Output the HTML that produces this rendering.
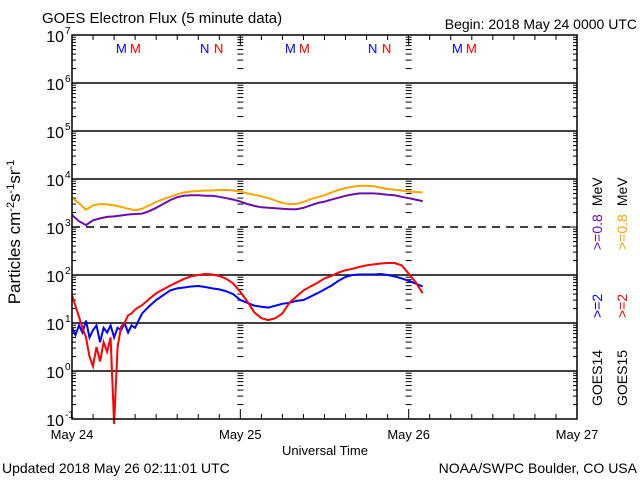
<!DOCTYPE html>
<html><head><meta charset="utf-8"><style>
html,body{margin:0;padding:0;background:#fff;}
svg{display:block;font-family:"Liberation Sans",sans-serif;}
</style></head><body>
<svg id="chart" width="640" height="480" viewBox="0 0 640 480" xmlns="http://www.w3.org/2000/svg">
<rect width="640" height="480" fill="#fff"/>
<text x="42" y="23" font-size="15">GOES Electron Flux (5 minute data)</text>
<text x="637" y="29" font-size="14" text-anchor="end">Begin: 2018 May 24 0000 UTC</text>
<text x="2" y="473" font-size="14">Updated 2018 May 26 02:11:01 UTC</text>
<text x="637" y="473" font-size="14" text-anchor="end">NOAA/SWPC Boulder, CO USA</text>
<text x="325" y="455" font-size="13" text-anchor="middle">Universal Time</text>
<text transform="translate(20,232) rotate(-90)" font-size="17" text-anchor="middle">Particles cm<tspan font-size="11" dy="-6">-2</tspan><tspan dy="6">s</tspan><tspan font-size="11" dy="-6">-1</tspan><tspan dy="6">sr</tspan><tspan font-size="11" dy="-6">-1</tspan></text>
<g id="gridG"></g>
<g id="ticksG"></g>
<g id="seriesG"></g>
<g id="labelsG"></g>
<rect x="72" y="35" width="505" height="384" fill="none" stroke="#000" stroke-width="1.5"/>
<g font-size="14">
<text transform="translate(602,406) rotate(-90)">GOES14</text>
<text transform="translate(627,406) rotate(-90)">GOES15</text>
<text transform="translate(602,318) rotate(-90)" fill="#0000ff">&gt;=2</text>
<text transform="translate(627,318) rotate(-90)" fill="#ff0000">&gt;=2</text>
<text transform="translate(602,250) rotate(-90)"><tspan fill="#6a0dad">&gt;=0.8</tspan><tspan dx="8">MeV</tspan></text>
<text transform="translate(627,250) rotate(-90)"><tspan fill="#ffa500">&gt;=0.8</tspan><tspan dx="8">MeV</tspan></text>
</g>
<g font-size="13">
<text x="116" y="53" fill="#0000ff">M</text><text x="130" y="53" fill="#ff0000">M</text>
<text x="200" y="53" fill="#0000ff">N</text><text x="214" y="53" fill="#ff0000">N</text>
<text x="285" y="53" fill="#0000ff">M</text><text x="299" y="53" fill="#ff0000">M</text>
<text x="368" y="53" fill="#0000ff">N</text><text x="382" y="53" fill="#ff0000">N</text>
<text x="452" y="53" fill="#0000ff">M</text><text x="466" y="53" fill="#ff0000">M</text>
</g>
</svg>
<script>
const dayLabels = ["May 24","May 25","May 26","May 27"];
const decadeExps = [7,6,5,4,3,2,1,0,-1];
const hoursA = [0,1,2,3,4,5,6,7,8,9,10,11,12,13,14,15,16,17,18,19,20,21,22,23,24,25,26,27,28,29,30,31,32,33,34,35,36,37,38,39,40,41,42,43,44,45,46,47,48,49,50];
const g15Low = [3.60,3.50,3.36,3.45,3.48,3.47,3.45,3.42,3.38,3.35,3.38,3.45,3.52,3.58,3.63,3.68,3.72,3.74,3.75,3.76,3.76,3.77,3.77,3.76,3.74,3.70,3.67,3.64,3.60,3.55,3.50,3.48,3.48,3.52,3.58,3.62,3.66,3.72,3.77,3.81,3.84,3.86,3.86,3.85,3.82,3.79,3.78,3.76,3.74,3.73,3.72];
const g14Low = [3.25,3.12,3.04,3.14,3.18,3.21,3.22,3.24,3.26,3.27,3.28,3.33,3.40,3.48,3.56,3.62,3.65,3.66,3.66,3.65,3.65,3.63,3.60,3.57,3.53,3.48,3.44,3.41,3.40,3.39,3.38,3.37,3.37,3.40,3.45,3.50,3.53,3.57,3.61,3.65,3.68,3.70,3.70,3.70,3.69,3.67,3.66,3.63,3.60,3.57,3.54];
const hoursB = [0,0.5,1,1.5,2,2.5,3,3.5,4,4.5,5,5.5,6,6.5,7,7.5,8,8.5,9,9.5,10,11,12,13,14,15,16,17,18,19,20,21,22,23,24,25,26,27,28,29,30,31,32,33,34,35,36,37,38,39,40,41,42,43,44,45,46,47,48,49,50];
const g14High = [0.90,0.75,0.95,0.80,1.05,0.70,0.85,0.95,0.60,0.90,0.80,0.95,0.70,0.90,0.85,1.00,0.80,0.95,0.90,1.05,1.20,1.35,1.48,1.58,1.68,1.72,1.74,1.76,1.77,1.75,1.72,1.70,1.66,1.60,1.48,1.42,1.36,1.34,1.32,1.36,1.40,1.42,1.46,1.48,1.55,1.62,1.70,1.78,1.88,1.96,2.00,2.01,2.01,2.01,2.02,2.00,1.97,1.93,1.88,1.82,1.76];
const g15High = [1.58,1.35,1.13,0.90,0.70,0.30,0.10,0.50,0.20,0.60,0.40,0.70,-1.10,0.50,0.92,1.00,1.16,1.20,1.28,1.33,1.37,1.50,1.62,1.70,1.78,1.85,1.92,1.97,2.00,2.02,2.01,1.98,1.92,1.82,1.65,1.45,1.22,1.10,1.06,1.10,1.20,1.42,1.55,1.68,1.76,1.84,1.93,1.98,2.05,2.10,2.13,2.17,2.20,2.22,2.24,2.25,2.25,2.20,2.03,1.85,1.62];
const seriesColors = {g15Low:"#ffa500", g14Low:"#6a0dad", g14High:"#0000ff", g15High:"#ff0000"};

const NS="http://www.w3.org/2000/svg";
const X0=72, X1=577, Y0=35, Y1=419;
function xScale(h){ return X0 + h*(X1-X0)/72; }
function yScale(lg){ return Y0 + (7-lg)*(Y1-Y0)/8; }
function mk(tag, attrs, parent){ const e=document.createElementNS(NS,tag); for(const k in attrs) e.setAttribute(k,attrs[k]); parent.appendChild(e); return e; }

const gridEl=document.getElementById('gridG');
decadeExps.forEach(function(e){
  if(e===7||e===-1) return;
  const ln=mk('line',{x1:X0,x2:X1,y1:yScale(e),y2:yScale(e),stroke:'#000','stroke-width':1.5},gridEl);
  
  
  if(e===3) ln.setAttribute('stroke-dasharray','8,6');
});

const ticksEl=document.getElementById('ticksG');
const tickXs=[[X0,1],[X1,-1],[xScale(24),0],[xScale(48),0]];
for(let e=-1;e<7;e++){
  for(let m=1;m<10;m++){
    const y=yScale(e+Math.log10(m));
    const len = m===1?8:4;
    tickXs.forEach(function(t){
      let a,b;
      if(t[1]===1){a=t[0];b=t[0]+len;}
      else if(t[1]===-1){a=t[0]-len;b=t[0];}
      else { if(m===1) return; a=t[0]-3;b=t[0]+3; }
      const tk=mk('line',{x1:a,x2:b,y1:y,y2:y,stroke:'#000','stroke-width':1},ticksEl);
      
      
    });
  }
}
for(let h=0;h<=72;h+=3){
  const x=xScale(h); const len=(h%24===0)?10:5;
  const t1=mk('line',{x1:x,x2:x,y1:Y1,y2:Y1-len,stroke:'#000','stroke-width':1},ticksEl);
  
  
  const t2=mk('line',{x1:x,x2:x,y1:Y0,y2:Y0+len,stroke:'#000','stroke-width':1},ticksEl);
  
  
}

const labelsEl=document.getElementById('labelsG');
dayLabels.forEach(function(d,i){
  const t=mk('text',{x:xScale(i*24),y:439,'font-size':13,'text-anchor':'middle'},labelsEl);
  t.textContent=d;
  
  
});
decadeExps.forEach(function(e){
  const t=mk('text',{x:64,y:yScale(e)+7,'font-size':16,'text-anchor':'end'},labelsEl);
  t.textContent='10';
  
  
  const s=mk('text',{x:65,y:yScale(e)-1,'font-size':10},labelsEl);
  s.textContent=String(e);
  
  
});

const seriesEl=document.getElementById('seriesG');
function draw(hours, vals, color, name){
  let d='';
  for(let i=0;i<vals.length;i++){
    const x=xScale(hours[i]), y=yScale(vals[i]);
    d += (i===0?'M':'L')+x.toFixed(1)+','+y.toFixed(1);
  }
  const p=mk('path',{d:d,fill:'none',stroke:color,'stroke-width':2,'stroke-linejoin':'miter'},seriesEl);
  
  
}
draw(hoursA,g15Low,seriesColors.g15Low,'goes15-0.8mev-line');
draw(hoursA,g14Low,seriesColors.g14Low,'goes14-0.8mev-line');
draw(hoursB,g14High,seriesColors.g14High,'goes14-2mev-line');
draw(hoursB,g15High,seriesColors.g15High,'goes15-2mev-line');
</script>
</body></html>
